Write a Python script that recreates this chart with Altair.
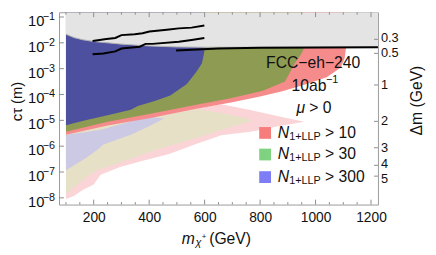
import altair as alt
import pandas as pd

FONT = "Liberation Sans, Arial, Helvetica, sans-serif"
W, H = 325, 196

# ---------------- axes ----------------
x_domain = [75, 1225]
y_domain_exp = [-8.26, -0.815]
x_tick_labels = [200, 400, 600, 800, 1000, 1200]
x_minor_ticks = [100, 150, 250, 300, 350, 450, 500, 550, 650, 700, 750,
                 850, 900, 950, 1050, 1100, 1150]
y_decades = [-8, -7, -6, -5, -4, -3, -2, -1]
dm_labels = ["0.3", "0.5", "1", "2", "3", "4", "5"]
dm_ctau_exp = [-1.863, -2.407, -3.63, -5.04, -6.06, -6.74, -7.16]
dm_label_exp = [-1.80, -2.41, -3.63, -5.04, -6.06, -6.71, -7.29]

# ---------------- regions (log10 ctau) ----------------
gray_m = [100, 130, 160, 200, 250, 300, 400, 500, 600, 1225]
gray_low = [-1.67, -1.80, -1.88, -1.95, -2.0, -2.05, -2.12, -2.16, -2.17, -2.17]

navy_m = [100, 170, 250, 334, 359, 420, 476, 536, 571, 590, 598, 600]
navy_low = [-5.19, -5.0, -4.8, -4.59, -4.44, -4.25, -4.04, -3.59, -3.11, -2.8, -2.4, -2.17]

olive_m = [100, 250, 400, 570, 690, 810, 890, 925, 950, 960]
olive_low = [-5.44, -5.05, -4.75, -4.4, -4.15, -3.85, -3.5, -2.8, -2.4, -2.17]

red_m = [100, 250, 410, 570, 700, 800, 880, 960, 1040, 1090, 1105, 1110]
red_low = [-5.56, -5.2, -4.9, -4.55, -4.3, -4.08, -3.87, -3.62, -3.33, -2.96, -2.6, -2.17]

pink_m = [100, 129, 160, 200, 225, 295, 377, 472, 564, 660, 765, 870, 960]
pink_top = [-5.5, -5.45, -5.38, -5.28, -5.22, -5.1, -4.95, -4.75, -4.5, -4.38, -4.6, -4.85, -5.05]
pink_bot = [-8.04, -7.93, -7.7, -7.48, -7.11, -6.81, -6.56, -6.30, -5.93, -5.58, -5.44, -5.22, -5.05]

beige_m = [100, 175, 211, 295, 412, 529, 571, 659, 720, 776]
beige_top = [-5.5, -5.35, -5.28, -5.1, -4.9, -4.65, -4.56, -4.72, -4.85, -5.0]
beige_bot = [-7.85, -7.19, -6.93, -6.63, -6.19, -5.81, -5.68, -5.37, -5.18, -5.0]

lav_m = [100, 175, 218, 235, 324, 334, 394, 454]
lav_top = [-5.56, -5.45, -5.37, -5.33, -5.07, -5.04, -4.85, -4.93]
lav_bot = [-6.93, -6.44, -6.1, -5.93, -5.6, -5.56, -5.26, -4.93]

# ---------------- black curves ----------------
line1_m = [196, 246, 278, 300, 348, 376, 401, 437, 472, 507, 553, 599]
line1_exp = [-1.93, -1.85, -1.81, -1.70, -1.67, -1.63, -1.56, -1.52, -1.48, -1.44, -1.41, -1.33]
line2_m = [196, 235, 278, 300, 366, 387, 412, 507, 553, 599]
line2_exp = [-2.44, -2.41, -2.33, -2.22, -2.15, -2.04, -2.04, -1.96, -1.89, -1.81]
line3_m = [497, 650, 800, 1225]
line3_exp = [-2.30, -2.22, -2.19, -2.17]

legend_labels = ["> 10", "> 30", "> 300"]
legend_colors = ["#f77d7d", "#7fd27f", "#7d7df5"]

TICK = "#8c8c8c"
TOP = 10 ** y_domain_exp[1]


def ct(v):
    return [10 ** e for e in v]


xs = alt.Scale(domain=x_domain, nice=False, zero=False)
ys = alt.Scale(type="log", domain=[10 ** y_domain_exp[0], TOP], nice=False)
xaxis = alt.Axis(values=x_tick_labels, format="d", ticks=False, domain=False, grid=False,
                 title=None, labelFontSize=14, labelFont=FONT, labelColor="#111",
                 labelPadding=6)


def X(f="m"):
    return alt.X(f"{f}:Q", scale=xs, axis=xaxis)


def Y(f="c"):
    return alt.Y(f"{f}:Q", scale=ys, axis=None)


def band(m, lo, hi, color):
    df = pd.DataFrame({"m": m, "lo": ct(lo), "hi": ct(hi)})
    return alt.Chart(df).mark_area(color=color, opacity=1, clip=True).encode(
        x=X(), y=Y("lo"), y2="hi:Q")


def upto_top(m, lo, color):
    df = pd.DataFrame({"m": m, "lo": ct(lo), "hi": [TOP] * len(m)})
    return alt.Chart(df).mark_area(color=color, opacity=1, clip=True).encode(
        x=X(), y=Y("lo"), y2="hi:Q")


def txt(s, x, y, size=16, align="left", italic=False, angle=0):
    kw = dict(font=FONT, fontSize=size, align=align, baseline="middle", color="#111")
    if italic:
        kw["fontStyle"] = "italic"
    if angle:
        kw["angle"] = angle
    return alt.Chart(pd.DataFrame({"t": [s]})).mark_text(**kw).encode(
        text="t:N", x=alt.value(x), y=alt.value(y))


layers = [
    band(pink_m, pink_bot, pink_top, "#fbd4d7"),
    band(beige_m, beige_bot, beige_top, "#e6e0c6"),
    band(lav_m, lav_bot, lav_top, "#cbc9e3"),
    upto_top(red_m, red_low, "#f68b8c"),
    upto_top(olive_m, olive_low, "#8e9b52"),
    upto_top(navy_m, navy_low, "#4c509e"),
    upto_top(gray_m, gray_low, "#e4e4e4"),
]
gdf = pd.DataFrame({"m": gray_m, "c": ct(gray_low)})
layers.append(alt.Chart(gdf).mark_line(color="#b0b0b0", strokeWidth=1, clip=True).encode(x=X(), y=Y()))

ldf = pd.concat([
    pd.DataFrame({"m": line1_m, "c": ct(line1_exp), "k": "a"}),
    pd.DataFrame({"m": line2_m, "c": ct(line2_exp), "k": "b"}),
    pd.DataFrame({"m": line3_m, "c": ct(line3_exp), "k": "c"}),
])
layers.append(alt.Chart(ldf).mark_line(color="black", strokeWidth=2, clip=True).encode(
    x=X(), y=Y(), detail="k:N"))

# ticks (inward, Mathematica style)
maj = pd.DataFrame({"m": x_tick_labels})
mnr = pd.DataFrame({"m": x_minor_ticks})
layers += [
    alt.Chart(maj).mark_rule(color=TICK).encode(x=X(), y=alt.value(H), y2=alt.value(H - 5)),
    alt.Chart(maj).mark_rule(color=TICK).encode(x=X(), y=alt.value(0), y2=alt.value(5)),
    alt.Chart(mnr).mark_rule(color=TICK).encode(x=X(), y=alt.value(H), y2=alt.value(H - 2.5)),
    alt.Chart(mnr).mark_rule(color=TICK).encode(x=X(), y=alt.value(0), y2=alt.value(2.5)),
]
dec = pd.DataFrame({"c": [10.0 ** d for d in y_decades],
                    "s": ["\u2212" + str(abs(d)) for d in y_decades]})
layers += [
    alt.Chart(dec).mark_rule(color=TICK).encode(y=Y(), x=alt.value(0), x2=alt.value(5)),
    alt.Chart(dec).mark_text(font=FONT, fontSize=15, align="right", baseline="middle",
                             dy=4, color="#111").encode(y=Y(), x=alt.value(-15), text=alt.value("10")),
    alt.Chart(dec).mark_text(font=FONT, fontSize=11, align="right", baseline="middle",
                             dy=0, color="#111").encode(y=Y(), x=alt.value(-4), text="s:N"),
]
dm_t = pd.DataFrame({"c": ct(dm_ctau_exp)})
dm_l = pd.DataFrame({"c": ct(dm_label_exp), "s": dm_labels})
layers += [
    alt.Chart(dm_t).mark_rule(color=TICK).encode(y=Y(), x=alt.value(W - 4), x2=alt.value(W)),
    alt.Chart(dm_l).mark_text(font=FONT, fontSize=13, align="left", baseline="middle",
                              color="#111").encode(y=Y(), x=alt.value(W + 3), text="s:N"),
]

# axis titles
layers += [
    txt("c\u03c4 (m)", -43, 91, 15, align="center", angle=270),
    txt("\u0394m (GeV)", 365, 90, 16, align="center", angle=270),
    txt("m", 125, 231, 16, italic=True),
    txt("\u03c7", 139, 235, 11, italic=True),
    txt("+", 145.5, 229, 8),
    txt("(GeV)", 153, 231, 16),
]

# annotations
layers += [
    txt("FCC\u2212eh\u2212240", 259, 52, 16, align="center"),
    txt("10ab", 237, 75, 16),
    txt("\u22121", 272, 69, 11),
    txt("\u03bc", 242, 98, 16, italic=True),
    txt("> 0", 255, 98, 16),
]

# legend
leg_y = [123, 145, 168]
for lab, col, yy in zip(legend_labels, legend_colors, leg_y):
    layers += [
        alt.Chart(pd.DataFrame({"t": [lab]})).mark_square(size=144, color=col, opacity=1).encode(
            x=alt.value(210), y=alt.value(yy)),
        txt("N", 223, yy, 16, italic=True),
        txt("1+LLP", 234.5, yy + 4, 11),
        txt(lab, 271, yy, 16),
    ]

chart = alt.layer(*layers).properties(
    width=W, height=H,
    autosize=alt.AutoSizeParams(type="none"),
    padding={"left": 52, "top": 2, "right": 51, "bottom": 45},
).configure_view(stroke="#9a9a9a", strokeWidth=1)

chart.save("out.html", embed_options={"renderer": "svg", "actions": False})
